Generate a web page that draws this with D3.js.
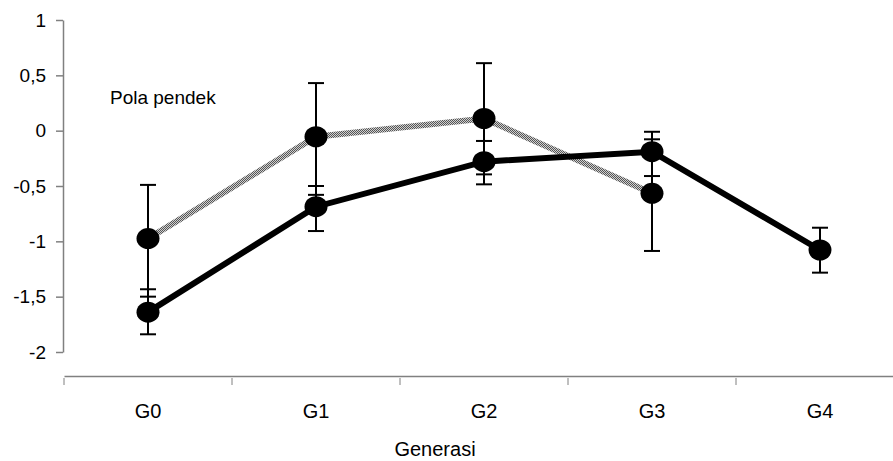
<!DOCTYPE html>
<html>
<head>
<meta charset="utf-8">
<script src="https://cdn.jsdelivr.net/npm/d3@7"></script>
<style>
  body { margin: 0; background: #fff; }
  svg { display: block; font-family: "Liberation Sans", Arial, sans-serif; }
</style>
</head>
<body>
<svg id="chart" width="893" height="461"></svg>
<script>
// data
const generations = ["G0", "G1", "G2", "G3", "G4"];
const yTicks = [-2, -1.5, -1, -0.5, 0, 0.5, 1];

// grey (patterned) series, no value for G4
const greyMean = [-0.975, -0.055, 0.11, -0.566, null];
const greyHigh = [-0.49, 0.43, 0.61, -0.078, null];
const greyLow  = [-1.50, -0.58, -0.395, -1.087, null];

// black series
const blackMean = [-1.64, -0.687, -0.28, -0.19, -1.078];
const blackHigh = [-1.433, -0.50, -0.093, -0.01, -0.877];
const blackLow  = [-1.84, -0.907, -0.485, -0.41, -1.283];

const svg = d3.select("#chart");

const y = d3.scaleLinear().domain([-2, 1]).range([352, 20]);
const x = d3.scaleBand().domain(generations).range([64, 904]);
const cx = g => x(g) + x.bandwidth() / 2;

// checker pattern for the grey line
const pat = svg.append("defs").append("pattern")
    .attr("id", "checker")
    .attr("patternUnits", "userSpaceOnUse")
    .attr("width", 2).attr("height", 2);
pat.append("rect").attr("width", 2).attr("height", 2).attr("fill", "#d0d0d0");
pat.append("rect").attr("width", 1).attr("height", 1).attr("fill", "#555");
pat.append("rect").attr("x", 1).attr("y", 1).attr("width", 1).attr("height", 1).attr("fill", "#555");

// y axis
const yAxis = svg.append("g")
    .attr("transform", "translate(63,0)")
    .call(d3.axisLeft(y)
        .tickValues(yTicks)
        .tickSize(7)
        .tickSizeOuter(0)
        .tickPadding(10)
        .tickFormat(d => String(d).replace(".", ",")));
yAxis.select(".domain").attr("stroke", "#808080").attr("stroke-width", 1.5);
yAxis.selectAll(".tick line").attr("stroke", "#808080").attr("stroke-width", 1.5);
yAxis.selectAll(".tick text")
    .attr("fill", "#000")
    .style("font-size", "19px")
    .style("font-family", "'Liberation Sans', Arial, sans-serif");

// x axis (labels at band centres, ticks at band edges)
const xAxis = svg.append("g")
    .attr("transform", "translate(0,376)")
    .call(d3.axisBottom(x).tickSize(0).tickSizeOuter(0).tickPadding(28));
xAxis.select(".domain").attr("stroke", "#808080").attr("stroke-width", 1.5);
xAxis.selectAll(".tick text")
    .attr("fill", "#000")
    .style("font-size", "20px")
    .style("font-family", "'Liberation Sans', Arial, sans-serif");

svg.append("g").selectAll("line")
    .data(generations)
    .enter()
    .append("line")
    .attr("x1", d => x(d)).attr("x2", d => x(d))
    .attr("y1", 378).attr("y2", 385)
    .attr("stroke", "#808080")
    .attr("stroke-width", 1);

// lines
const greyPts = generations.map((g, i) => ({ g, v: greyMean[i], hi: greyHigh[i], lo: greyLow[i] }))
    .filter(d => d.v !== null);
const blackPts = generations.map((g, i) => ({ g, v: blackMean[i], hi: blackHigh[i], lo: blackLow[i] }));

const line = d3.line().x(d => cx(d.g)).y(d => y(d.v));

svg.append("path")
    .datum(greyPts)
    .attr("d", line)
    .attr("fill", "none")
    .attr("stroke", "url(#checker)")
    .attr("stroke-width", 6);

svg.append("path")
    .datum(blackPts)
    .attr("d", line)
    .attr("fill", "none")
    .attr("stroke", "#000")
    .attr("stroke-width", 6);

// error bars
const allPts = greyPts.concat(blackPts);
const err = svg.append("g").attr("stroke", "#000").attr("stroke-width", 2);
err.selectAll(".stem")
    .data(allPts)
    .enter()
    .append("line")
    .attr("x1", d => cx(d.g)).attr("x2", d => cx(d.g))
    .attr("y1", d => y(d.hi)).attr("y2", d => y(d.lo));
err.selectAll(".capHi")
    .data(allPts)
    .enter()
    .append("line")
    .attr("x1", d => cx(d.g) - 8).attr("x2", d => cx(d.g) + 8)
    .attr("y1", d => y(d.hi)).attr("y2", d => y(d.hi));
err.selectAll(".capLo")
    .data(allPts)
    .enter()
    .append("line")
    .attr("x1", d => cx(d.g) - 8).attr("x2", d => cx(d.g) + 8)
    .attr("y1", d => y(d.lo)).attr("y2", d => y(d.lo));

// markers
svg.append("g").selectAll("ellipse")
    .data(allPts)
    .enter()
    .append("ellipse")
    .attr("cx", d => cx(d.g))
    .attr("cy", d => y(d.v))
    .attr("rx", 11.5)
    .attr("ry", 10.5)
    .attr("fill", "#000");

// texts
svg.append("text")
    .attr("x", 110).attr("y", 104)
    .style("font-size", "19px")
    .text("Pola pendek");

svg.append("text")
    .attr("x", 435).attr("y", 456)
    .attr("text-anchor", "middle")
    .style("font-size", "20px")
    .text("Generasi");
</script>
</body>
</html>
